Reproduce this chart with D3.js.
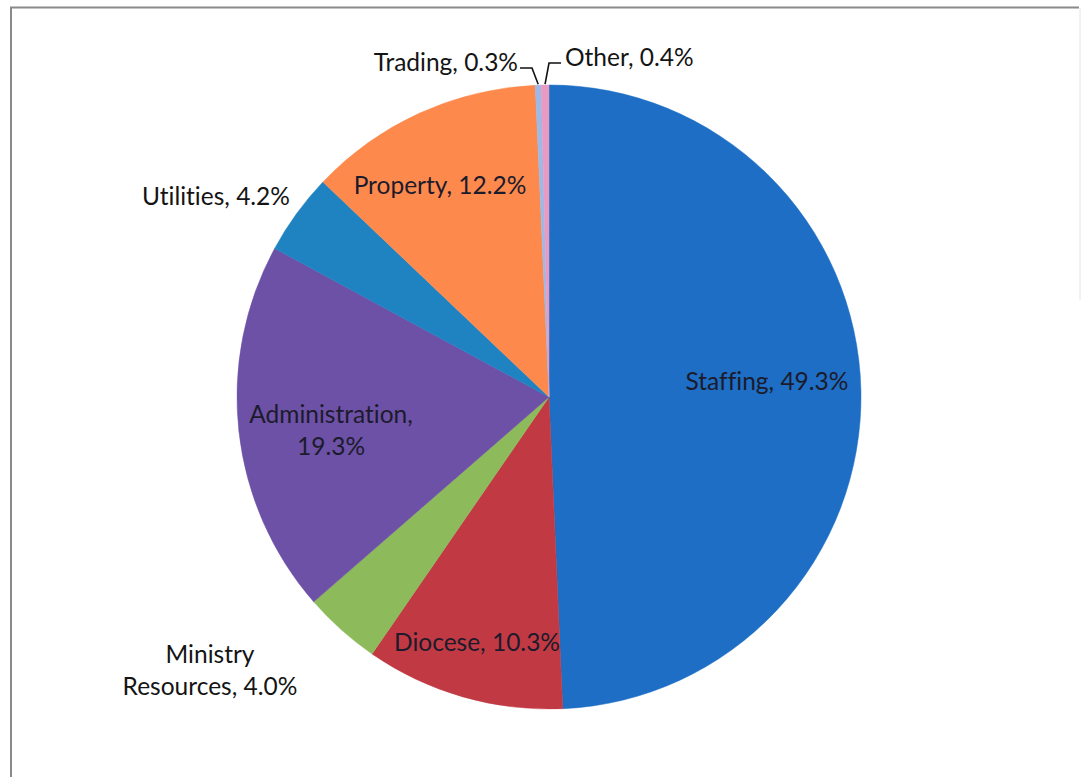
<!DOCTYPE html>
<html>
<head>
<meta charset="utf-8">
<script src="https://cdn.jsdelivr.net/npm/d3@7"></script>
<style>
  html, body { margin: 0; padding: 0; background: #fff; }
  svg { display: block; }
  text { font-family: Lato, "Open Sans", sans-serif; font-variant-ligatures: none; }
</style>
</head>
<body>
<svg id="chart" width="1083" height="777"></svg>
<script>
// Expenditure breakdown, clockwise from 12 o'clock
const categories = ["Staffing", "Diocese", "Ministry Resources", "Administration",
                    "Utilities", "Property", "Trading", "Other"];
const values = [49.3, 10.3, 4.0, 19.3, 4.2, 12.2, 0.3, 0.4];
const colors = ["#1d6ec4", "#c13a43", "#8dbb5c", "#6c51a6",
                "#1f83c2", "#fd8a4c", "#9fb9e6", "#e99ac3"];

// Label placement (text lines, anchor point, alignment)
const labelLayout = [
  { lines: ["Staffing, 49.3%"], x: 767, y: 390, anchor: "middle", inside: true },
  { lines: ["Diocese, 10.3%"], x: 477, y: 651, anchor: "middle", inside: true },
  { lines: ["Ministry", "Resources, 4.0%"], x: 210, y: 663, anchor: "middle", inside: false },
  { lines: ["Administration,", "19.3%"], x: 331, y: 423, anchor: "middle", inside: true },
  { lines: ["Utilities, 4.2%"], x: 216, y: 205, anchor: "middle", inside: false },
  { lines: ["Property, 12.2%"], x: 440, y: 194, anchor: "middle", inside: true },
  { lines: ["Trading, 0.3%"], x: 518, y: 71, anchor: "end", inside: false, leader: { x0: 520, y0: 68, x1: 532 } },
  { lines: ["Other, 0.4%"], x: 565, y: 66, anchor: "start", inside: false, leader: { x0: 561, y0: 63, x1: 549 } }
];

const svg = d3.select("#chart");
const cx = 549, cy = 397, radius = 312;

// chart frame
svg.append("path")
  .attr("d", "M11,777 L11,7.5 L1079,7.5")
  .attr("fill", "none").attr("stroke", "#8a8a8a").attr("stroke-width", 2);
svg.append("line")
  .attr("x1", 1080).attr("y1", 8).attr("x2", 1080).attr("y2", 300)
  .attr("stroke", "#e4e4e4").attr("stroke-width", 1);

const data = categories.map((c, i) => ({ name: c, value: values[i], color: colors[i], label: labelLayout[i] }));

const pie = d3.pie().value(d => d.value).sort(null);
const arc = d3.arc().innerRadius(0).outerRadius(radius);
const arcs = pie(data);

const g = svg.append("g").attr("transform", `translate(${cx},${cy})`);

g.selectAll("path.slice")
  .data(arcs)
  .join("path")
  .attr("class", "slice")
  .attr("d", arc)
  .attr("fill", d => d.data.color)
  .attr("stroke", d => d.data.color)
  .attr("stroke-width", 0.5);

// leader lines for the thin slices, ending at the slice's outer edge
const edgeArc = d3.arc().innerRadius(radius + 1).outerRadius(radius + 1);
arcs.forEach(a => {
  const L = a.data.label;
  if (!L.leader) return;
  const [ex, ey] = edgeArc.centroid(a);
  svg.append("polyline")
    .attr("points", `${L.leader.x0},${L.leader.y0} ${L.leader.x1},${L.leader.y0} ${cx + ex},${cy + ey}`)
    .attr("fill", "none")
    .attr("stroke", "#111")
    .attr("stroke-width", 1.6);
});

// labels
arcs.forEach(a => {
  const L = a.data.label;
  const t = svg.append("text")
    .attr("x", L.x).attr("y", L.y)
    .attr("text-anchor", L.anchor)
    .attr("font-size", 24.5)
    .attr("fill", L.inside ? "#1c1b2c" : "#141414");
  L.lines.forEach((line, i) => {
    t.append("tspan")
      .attr("x", L.x)
      .attr("dy", i === 0 ? 0 : 32)
      .text(line);
  });
});
</script>
</body>
</html>
